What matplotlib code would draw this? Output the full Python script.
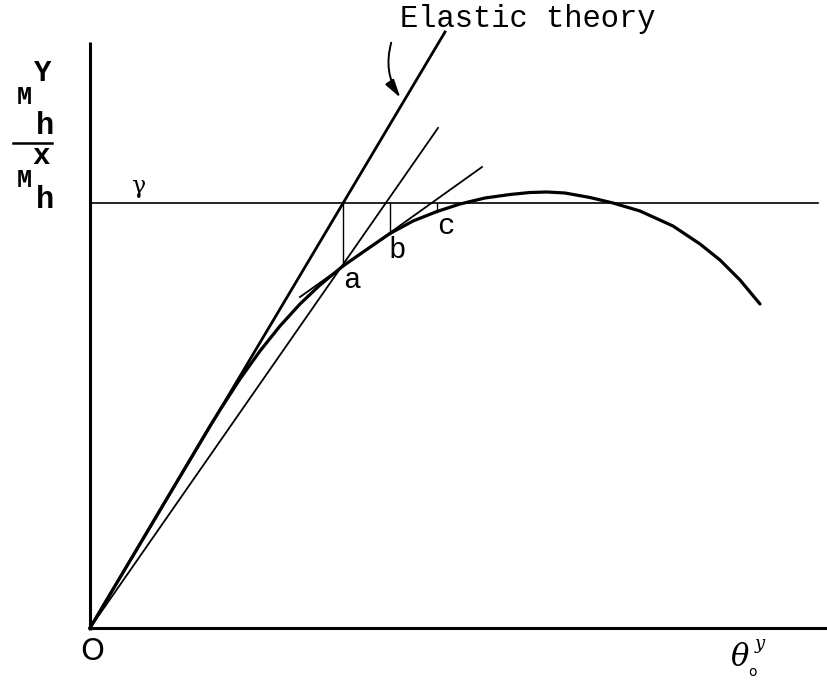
import matplotlib
matplotlib.use("Agg")
import matplotlib.pyplot as plt
from matplotlib.patches import FancyArrowPatch

# Load-rotation curve (rotation, moment), with origin at the axes corner
curve_x = [0, 60, 120, 130, 150, 170, 190, 210, 230, 253, 276, 300, 323, 347,
           370, 395, 420, 440, 457, 475, 500, 523, 550, 583, 610, 630, 650, 670]
curve_y = [0, 101, 202, 218, 249, 277, 302, 324, 343, 362, 378, 394.5, 407, 416.5,
           424, 430, 433.5, 435.5, 436, 435, 430.5, 425, 417, 402, 384, 368, 348, 324]

# Straight construction lines: (x0, y0, x1, y1)
elastic_line = (0, 0, 355, 596)
secant_line = (0, 0, 348, 500)
tangent_line = (210, 331, 392, 461)

yield_level = 425
yield_x_end = 728
step_x = [253, 300, 347]
step_y = [362, 394.5, 416.5]
step_labels = ["a", "b", "c"]

x_axis_end = 738
y_axis_end = 586

fig = plt.figure(figsize=(8.28, 6.80), dpi=100)
ax = fig.add_axes([0, 0, 1, 1])
ax.set_xlim(-90, 738)
ax.set_ylim(-52, 628)
ax.axis("off")

ink = "black"

# axes
ax.plot([0, 0], [-2, y_axis_end], color=ink, lw=2.2, solid_capstyle="butt")
ax.plot([-2, x_axis_end], [0, 0], color=ink, lw=2.2, solid_capstyle="butt")

# yield moment level
ax.plot([0, yield_x_end], [yield_level, yield_level], color=ink, lw=1.2)

# construction lines
ax.plot(elastic_line[0::2], elastic_line[1::2], color=ink, lw=2.0)
ax.plot(secant_line[0::2], secant_line[1::2], color=ink, lw=1.3)
ax.plot(tangent_line[0::2], tangent_line[1::2], color=ink, lw=1.3)

# response curve
ax.plot(curve_x, curve_y, color=ink, lw=2.3, solid_joinstyle="round",
        solid_capstyle="round")

# vertical steps down to the curve
for sx, sy in zip(step_x, step_y):
    ax.plot([sx, sx], [yield_level, sy], color=ink, lw=1.0)

mono = "Liberation Mono"
label_offsets = [(0, -14), (-2, -17), (0, -14)]
for sx, sy, lab, (dx, dy) in zip(step_x, step_y, step_labels, label_offsets):
    ax.text(sx + dx, sy + dy, lab, family=mono, fontsize=21, ha="left", va="center")

# annotation of the elastic line
ax.text(310, 609, "Elastic theory", family=mono, fontsize=22, ha="left", va="center")
arrow = FancyArrowPatch((302, 588), (312, 528), connectionstyle="arc3,rad=0.25",
                        arrowstyle="-|>,head_length=11,head_width=3",
                        color=ink, lw=1.4, mutation_scale=1)
ax.add_patch(arrow)

# gamma near the yield line
ax.text(48, 442, "γ", family="DejaVu Serif", fontsize=17, ha="center", va="center")

# vertical axis label: M^y_h / M^x_h
ax.text(-66, 531, "M", family=mono, fontsize=18, fontweight="bold", ha="center", va="center")
ax.text(-47, 555, "Y", family=mono, fontsize=21, fontweight="bold", ha="center", va="center")
ax.text(-45, 502, "h", family=mono, fontsize=22, fontweight="bold", ha="center", va="center")
ax.plot([-77, -38], [485, 485], color=ink, lw=1.8)
ax.text(-49, 472, "x", family=mono, fontsize=21, fontweight="bold", ha="center", va="center")
ax.text(-66, 448, "M", family=mono, fontsize=18, fontweight="bold", ha="center", va="center")
ax.text(-45, 428, "h", family=mono, fontsize=22, fontweight="bold", ha="center", va="center")

# origin and horizontal axis label
ax.text(2, -24, "O", family="DejaVu Sans", fontsize=22, ha="center", va="center")
ax.text(650, -30, "θ", family="DejaVu Serif", fontsize=22, style="italic",
        ha="center", va="center")
ax.text(670, -16, "y", family="DejaVu Serif", fontsize=13, style="italic",
        ha="center", va="center")
ax.text(663, -44, "o", family="DejaVu Sans", fontsize=10, ha="center", va="center")

fig.savefig("out.png", dpi=100, facecolor="white")
